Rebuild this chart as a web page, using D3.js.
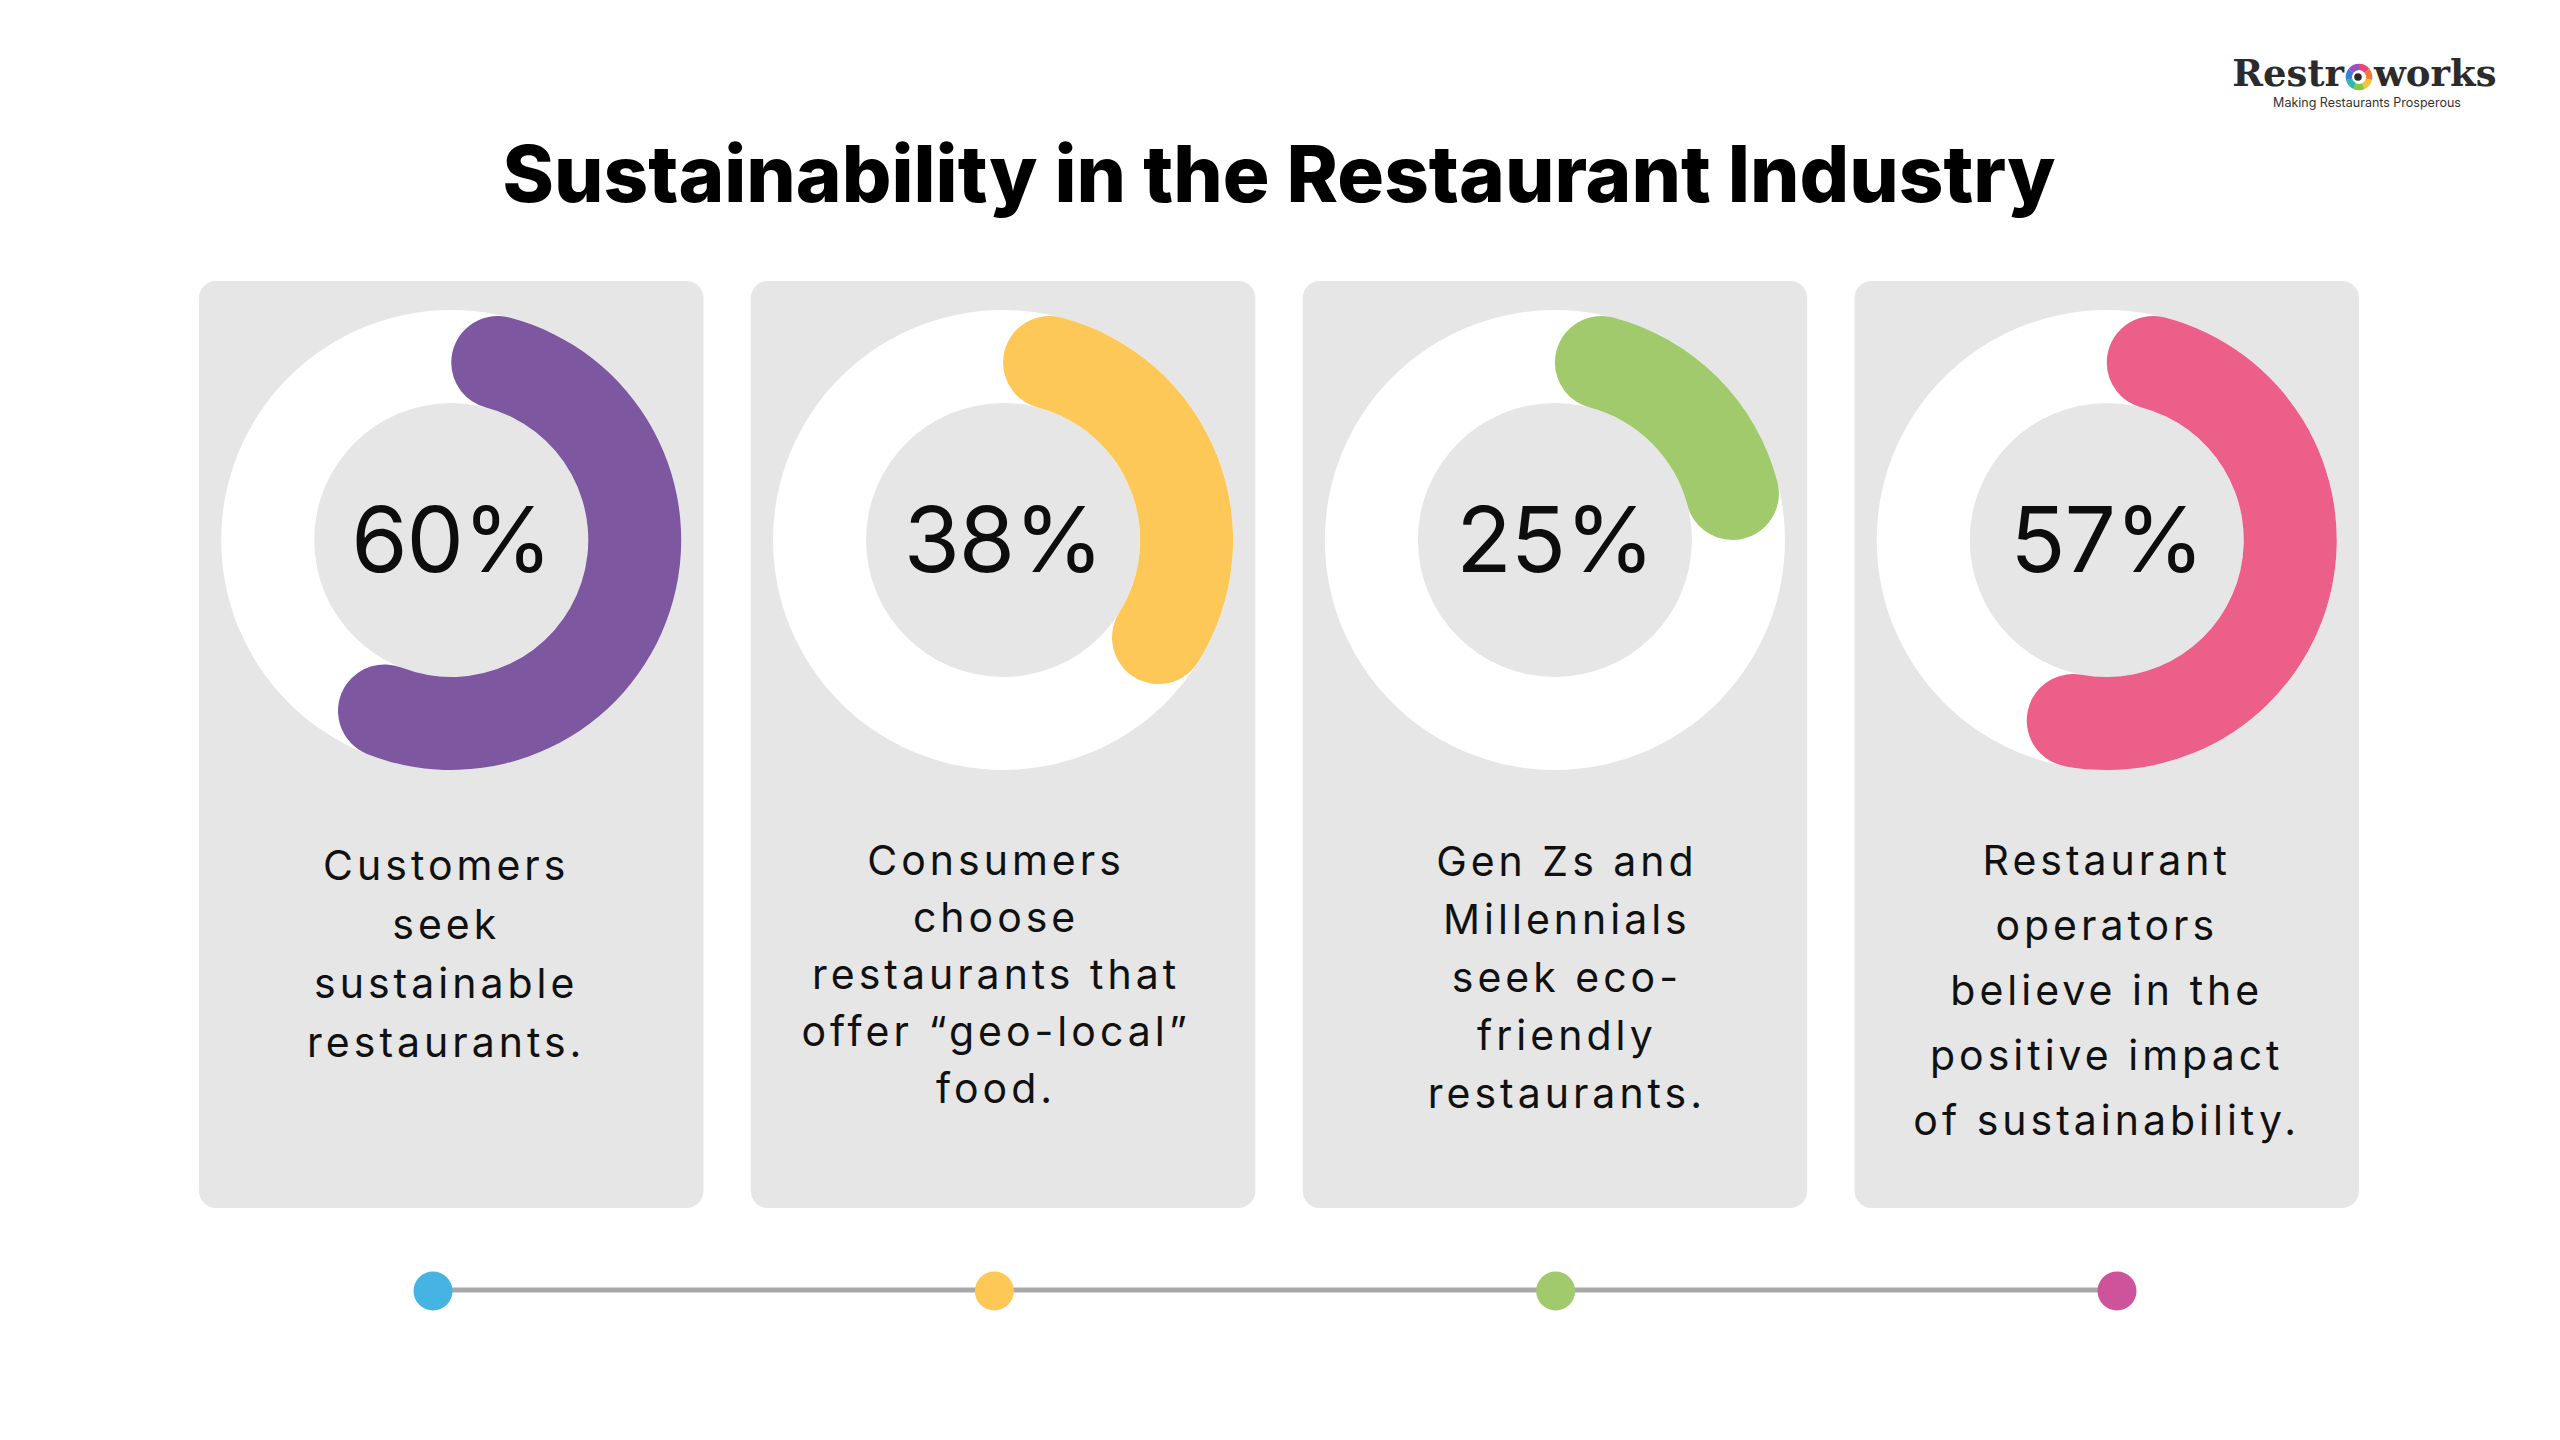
<!DOCTYPE html>
<html>
<head>
<meta charset="utf-8">
<script src="https://cdn.jsdelivr.net/npm/d3@7"></script>
<style>
  body { margin: 0; background: #ffffff; }
  svg { display: block; }
</style>
</head>
<body>
<div id="chart"></div>
<script>
// data
var categories = ["Customers", "Consumers", "Gen Zs and Millennials", "Restaurant operators"];
var percentValues = [60, 38, 25, 57];
var descriptionLines = [
	["Customers", "seek", "sustainable", "restaurants."],
	["Consumers", "choose", "restaurants that", "offer \u201cgeo-local\u201d", "food."],
	["Gen Zs and", "Millennials", "seek eco-", "friendly", "restaurants."],
	["Restaurant", "operators", "believe in the", "positive impact", "of sustainability."]
];
var titleText = "Sustainability in the Restaurant Industry";

// styles
var arcColors = ["#7e57a1", "#fdc857", "#a1ca6c", "#ec5f89"];
var dotColors = ["#46b4e3", "#fec857", "#a1ca6c", "#cd549a"];
var lineGaps = [59, 57, 58, 65];
var firstBaselines = [880, 875, 876, 875];
var textShift = [-5, -7, 12, 0];
var logoColors = ["#e8457a", "#f07a3a", "#f7c531", "#8cc63f", "#2fb6b0", "#3a7fd5", "#9b4dc4"];

var width = 2560, height = 1440;

var svg = d3.select("#chart")
	.append("svg")
	.attr("width", width)
	.attr("height", height);

svg.append("rect")
	.attr("width", width)
	.attr("height", height)
	.attr("fill", "#ffffff");

// title
var title = svg.append("text")
	.attr("x", 1279)
	.attr("y", 202)
	.attr("text-anchor", "middle")
	.style("font-family", "Inter, 'Noto Sans', sans-serif")
	.style("font-weight", 800)
	.style("font-size", "86px")
	.style("fill", "#000000")
	.text(titleText);
var tl = title.node().getComputedTextLength();
if (Math.abs(tl - 1553) > 20) {
	title.style("font-size", (86 * 1553 / tl) + "px");
}

// cards
var x = d3.scaleBand()
	.domain(categories)
	.range([199, 2359])
	.paddingInner(0.0858);

var cardTop = 281, cardBottom = 1208;
var cy = 540;
var outerR = 230, innerR = 137;

var cards = svg.selectAll(".card")
	.data(categories)
	.enter()
	.append("g")
		.attr("class", "card");

cards.append("rect")
	.attr("x", d => x(d))
	.attr("y", cardTop)
	.attr("width", x.bandwidth())
	.attr("height", cardBottom - cardTop)
	.attr("rx", 17)
	.attr("ry", 17)
	.style("fill", "#e6e6e6");

var ringArc = d3.arc()
	.innerRadius(innerR)
	.outerRadius(outerR)
	.startAngle(0)
	.endAngle(2 * Math.PI);

var valueArc = d3.arc()
	.innerRadius(innerR)
	.outerRadius(outerR)
	.cornerRadius((outerR - innerR) / 2)
	.startAngle(0)
	.endAngle(d => d / 100 * 2 * Math.PI);

cards.append("path")
	.attr("transform", d => "translate(" + (x(d) + x.bandwidth() / 2) + "," + cy + ")")
	.attr("d", ringArc())
	.style("fill", "#ffffff");

cards.append("path")
	.attr("transform", d => "translate(" + (x(d) + x.bandwidth() / 2) + "," + cy + ")")
	.attr("d", (d, i) => valueArc(percentValues[i]))
	.style("fill", (d, i) => arcColors[i]);

cards.append("text")
	.attr("x", d => x(d) + x.bandwidth() / 2)
	.attr("y", 572)
	.attr("text-anchor", "middle")
	.style("font-family", "Inter, 'Noto Sans', sans-serif")
	.style("font-weight", 400)
	.style("font-size", "91px")
	.style("letter-spacing", "-1px")
	.style("fill", "#0d0d0d")
	.text((d, i) => percentValues[i] + "%");

// descriptions
cards.each(function(d, i) {
	var g = d3.select(this);
	var cx = x(d) + x.bandwidth() / 2 + textShift[i];
	g.selectAll(".desc")
		.data(descriptionLines[i])
		.enter()
		.append("text")
			.attr("class", "desc")
			.attr("x", cx)
			.attr("y", (t, j) => firstBaselines[i] + j * lineGaps[i])
			.attr("text-anchor", "middle")
			.style("font-family", "Inter, 'Noto Sans', sans-serif")
			.style("font-weight", 400)
			.style("font-size", "41px")
			.style("letter-spacing", "4px")
			.style("fill", "#111111")
			.text(t => t);
});

// timeline
var tx = d3.scalePoint()
	.domain(categories)
	.range([433, 2117]);

svg.append("line")
	.attr("x1", tx(categories[0]))
	.attr("x2", tx(categories[categories.length - 1]))
	.attr("y1", 1290)
	.attr("y2", 1290)
	.attr("stroke", "#a8a8a8")
	.attr("stroke-width", 5);

svg.selectAll(".dot")
	.data(categories)
	.enter()
	.append("circle")
		.attr("class", "dot")
		.attr("cx", d => tx(d))
		.attr("cy", 1291)
		.attr("r", 19.5)
		.style("fill", (d, i) => dotColors[i]);

// logo
var logo = svg.append("g");
logo.append("text")
	.attr("x", 2344)
	.attr("y", 86)
	.attr("text-anchor", "end")
	.style("font-family", "'DejaVu Serif', serif")
	.style("font-weight", 700)
	.style("font-size", "37px")
	.style("fill", "#2b2b2b")
	.text("Restr");
logo.append("text")
	.attr("x", 2374)
	.attr("y", 86)
	.style("font-family", "'DejaVu Serif', serif")
	.style("font-weight", 700)
	.style("font-size", "37px")
	.style("fill", "#2b2b2b")
	.text("works");

var ringPie = d3.pie().sort(null).value(1);
var ringSeg = d3.arc().innerRadius(7).outerRadius(13.3);
logo.append("g")
	.attr("transform", "translate(2359,77)")
	.selectAll("path")
	.data(ringPie(logoColors))
	.enter()
	.append("path")
		.attr("d", ringSeg)
		.style("fill", d => d.data);
logo.append("circle")
	.attr("cx", 2358)
	.attr("cy", 77)
	.attr("r", 3.8)
	.style("fill", "#2b2b2b");

logo.append("text")
	.attr("x", 2367)
	.attr("y", 107)
	.attr("text-anchor", "middle")
	.style("font-family", "Inter, 'Noto Sans', sans-serif")
	.style("font-size", "12.5px")
	.style("fill", "#333333")
	.text("Making Restaurants Prosperous");
</script>
</body>
</html>
